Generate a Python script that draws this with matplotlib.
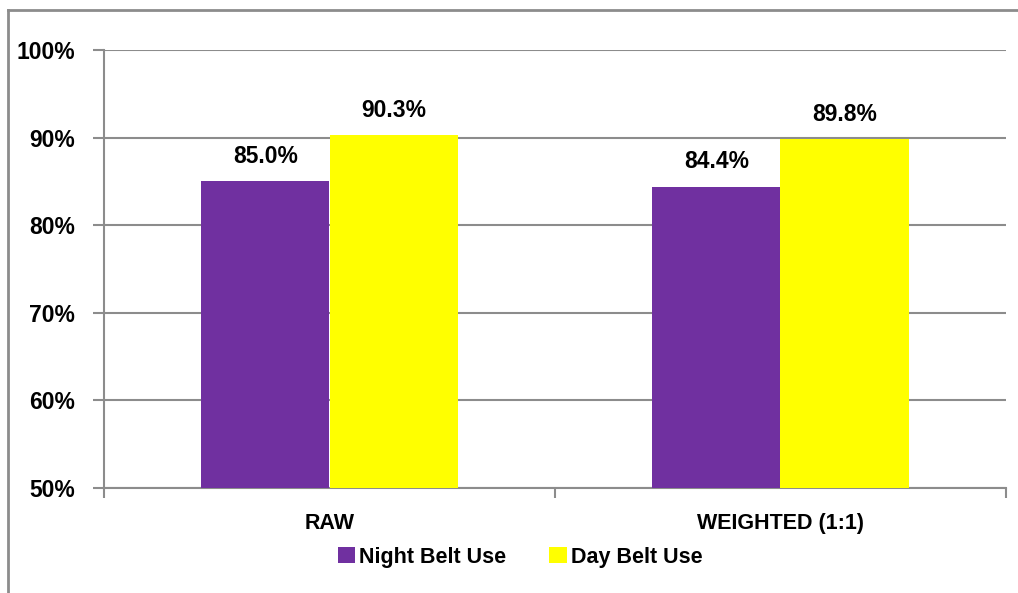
import matplotlib
matplotlib.use('Agg')
import matplotlib.pyplot as plt
from matplotlib.lines import Line2D
from matplotlib.patches import Patch
import numpy as np

# Belt use rates (%) by method
categories = ['RAW', 'WEIGHTED (1:1)']
night_use = [85.0, 84.4]
day_use = [90.3, 89.8]
series_names = ['Night Belt Use', 'Day Belt Use']
yticks = [50, 60, 70, 80, 90, 100]

purple = '#7030A0'
yellow = '#FFFF00'
gray = '#8C8C8C'
font = 'Liberation Sans'
fs = 15.5
fs_num = 16.5

plt.rcParams['font.family'] = font
plt.rcParams['font.weight'] = 'bold'

fig = plt.figure(figsize=(10.18, 5.93), dpi=100)
ax = fig.add_axes([104 / 1018, 1 - 488 / 593, (1006 - 104) / 1018, (488 - 50) / 593])

x = np.arange(len(categories)) + 0.5
w = 0.284
bars_n = ax.bar(x - w / 2, night_use, w, bottom=0, color=purple, zorder=3)
bars_d = ax.bar(x + w / 2, day_use, w, bottom=0, color=yellow, zorder=3)

for bars, vals in ((bars_n, night_use), (bars_d, day_use)):
    for b, v in zip(bars, vals):
        ax.annotate(f'{v:.1f}%', xy=(b.get_x() + b.get_width() / 2, v),
                    xytext=(0, 9.5), textcoords='offset points',
                    ha='center', va='bottom', fontsize=fs_num, fontweight='bold')

ax.set_xlim(0, 2)
ax.set_ylim(50, 100)
ax.set_yticks(yticks)
ax.set_yticklabels([f'{t}%' for t in yticks], fontsize=fs_num, fontweight='bold')
ax.yaxis.grid(True, color=gray, linewidth=1.5, zorder=0)
ax.set_axisbelow(True)

# category ticks sit on the boundaries, labels centred under each group
ax.set_xticks([0, 1, 2])
ax.set_xticklabels([])
ax.set_xticks(x, minor=True)
ax.set_xticklabels(categories, minor=True, fontsize=fs, fontweight='bold')
ax.tick_params(axis='x', which='minor', length=0, pad=18)
ax.tick_params(axis='x', which='major', length=7, width=1.5, color=gray)
ax.tick_params(axis='y', length=8, width=1.5, color=gray, pad=13)

for s in ('top', 'right'):
    ax.spines[s].set_visible(False)
for s in ('left', 'bottom'):
    ax.spines[s].set_color(gray)
    ax.spines[s].set_linewidth(1.5)

handles = [Patch(facecolor=purple), Patch(facecolor=yellow)]
fig.legend(handles, series_names, loc='center', bbox_to_anchor=(520 / 1018, 1 - 557 / 593),
           ncol=2, frameon=False, prop={'family': font, 'weight': 'bold', 'size': fs},
           handlelength=0.8, handleheight=0.8, handletextpad=0.2, columnspacing=2.0)

# outer chart frame
fig.add_artist(Line2D([8 / 1018, 8 / 1018], [0, 1 - 10 / 593], transform=fig.transFigure,
                      color=gray, linewidth=2))
fig.add_artist(Line2D([8 / 1018, 1], [1 - 10 / 593, 1 - 10 / 593], transform=fig.transFigure,
                      color=gray, linewidth=2))

fig.savefig('out.png', dpi=100)
